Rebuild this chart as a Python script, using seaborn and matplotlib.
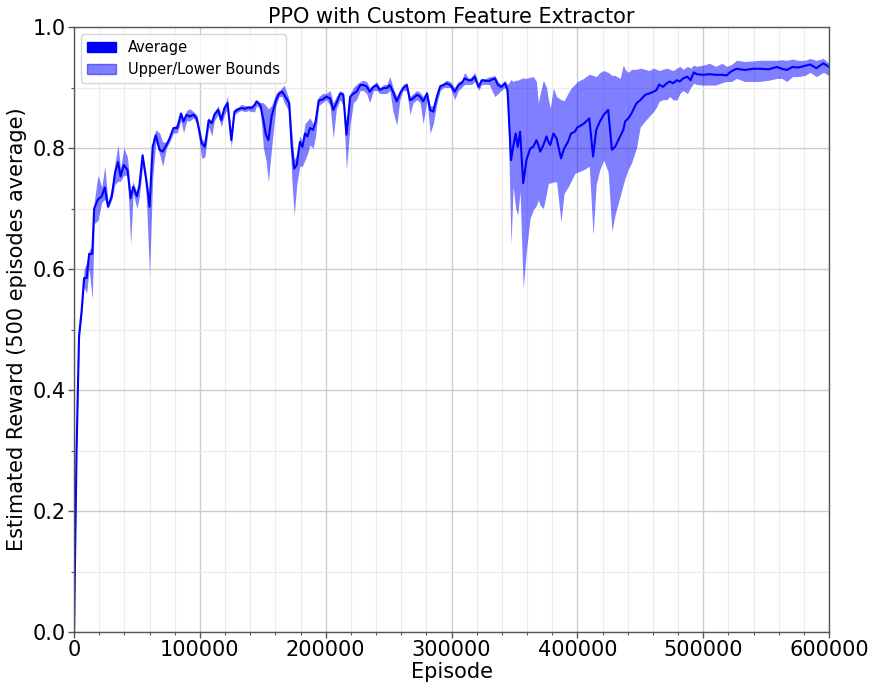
import numpy as np
import pandas as pd
import matplotlib
matplotlib.use("Agg")
import matplotlib.pyplot as plt
import matplotlib.patches as mpatches
from matplotlib.ticker import MultipleLocator
import seaborn as sns

episodes = [0, 2000, 4000, 6000, 8000, 10000, 12000, 14500, 16000, 19000, 22000, 24500, 27000, 30000,
            32500, 35000, 37000, 39500, 42500, 45000, 47000, 50000, 52000, 54500, 57000, 60000, 62500,
            65000, 68000, 70500, 73500, 76000, 79000, 82000, 85000, 87000, 89500, 92000, 95000, 97500,
            101500, 104000, 107000, 109500, 111500, 114500, 117000, 119500, 122000, 125000, 127500,
            130500, 133000, 136000, 138500, 141000, 143500, 145000, 148000, 150500, 152500, 154500,
            157000, 160500, 163000, 165500, 167000, 171000, 173000, 175000, 177000, 179500, 181500,
            183500, 185500, 187500, 190000, 192000, 194500, 197500, 200500, 203500, 206000, 208500,
            211500, 214000, 216500, 219500, 222000, 224500, 227500, 230000, 232500, 235000, 238000,
            240500, 243000, 246000, 248500, 251000, 253500, 256500, 259000, 261500, 264500, 267000,
            269500, 272500, 275000, 277500, 280500, 283000, 285500, 288000, 291000, 293500, 296000,
            299000, 302500, 305500, 308000, 310500, 313500, 316000, 318500, 321500, 324000, 327000,
            330000, 332000, 334500, 337000, 339500, 342500, 344500, 347300, 349000, 351000, 352600,
            354500, 357000, 359500, 362500, 365000, 367500, 369000, 370500, 373000, 375500, 377000,
            378500, 381000, 383500, 387000, 389500, 392500, 395000, 398000, 400000, 405000, 409500,
            412500, 415000, 418000, 421000, 424500, 427500, 430000, 434000, 436500, 438000, 440500,
            443000, 447000, 450000, 454000, 457000, 460500, 463000, 465000, 468000, 471000, 473500,
            476000, 479000, 481500, 484000, 487500, 490000, 492500, 495000, 500000, 505000, 510000,
            515000, 518500, 522500, 526500, 533000, 540000, 545000, 552000, 558500, 562500, 566500,
            571000, 575500, 581000, 585000, 590000, 595500, 600000]

average = [0.0, 0.30, 0.49, 0.53, 0.585, 0.585, 0.625, 0.625, 0.70, 0.715, 0.72, 0.735, 0.703, 0.72,
           0.758, 0.777, 0.753, 0.772, 0.764, 0.717, 0.736, 0.72, 0.739, 0.788, 0.753, 0.703, 0.802,
           0.821, 0.797, 0.794, 0.805, 0.816, 0.833, 0.833, 0.857, 0.844, 0.855, 0.852, 0.855, 0.849,
           0.808, 0.802, 0.846, 0.841, 0.855, 0.863, 0.846, 0.866, 0.874, 0.813, 0.860,
           0.864, 0.866, 0.865, 0.867, 0.866, 0.871, 0.877, 0.871, 0.846, 0.822, 0.813,
           0.852, 0.879, 0.890, 0.893, 0.888, 0.874, 0.802, 0.766, 0.772, 0.810, 0.802,
           0.824, 0.819, 0.833, 0.830, 0.844, 0.879, 0.880, 0.885, 0.882, 0.863, 0.874,
           0.890, 0.888, 0.822, 0.885, 0.890, 0.893, 0.904, 0.904, 0.902, 0.893, 0.901,
           0.904, 0.896, 0.899, 0.899, 0.904, 0.893, 0.877, 0.890, 0.899, 0.904, 0.879,
           0.882, 0.888, 0.885, 0.877, 0.890, 0.863, 0.860, 0.882, 0.902, 0.904, 0.907,
           0.904, 0.893, 0.904, 0.907, 0.915, 0.912, 0.912, 0.918, 0.901, 0.912, 0.911,
           0.911, 0.913, 0.915, 0.904, 0.901, 0.907, 0.896, 0.780, 0.802, 0.824, 0.802,
           0.827, 0.742, 0.780, 0.799, 0.802, 0.813, 0.805, 0.794, 0.805, 0.819, 0.810,
           0.805, 0.824, 0.816, 0.783, 0.799, 0.810, 0.824, 0.827, 0.834, 0.840, 0.849,
           0.786, 0.830, 0.844, 0.855, 0.863, 0.797, 0.802, 0.819, 0.830, 0.844, 0.849,
           0.857, 0.874, 0.879, 0.888, 0.890, 0.893, 0.896, 0.905, 0.901, 0.907, 0.910,
           0.907, 0.912, 0.910, 0.915, 0.918, 0.912, 0.925, 0.922, 0.921, 0.922, 0.921,
           0.921, 0.920, 0.927, 0.931, 0.929, 0.931, 0.931, 0.930, 0.934, 0.931, 0.929,
           0.934, 0.933, 0.936, 0.938, 0.932, 0.940, 0.934]

lower = [0.0, 0.29, 0.48, 0.52, 0.57, 0.56, 0.60, 0.55, 0.675, 0.68, 0.71, 0.715, 0.70, 0.715,
         0.74, 0.745, 0.745, 0.755, 0.755, 0.64, 0.725, 0.70, 0.72, 0.77, 0.74, 0.59, 0.75,
         0.81, 0.79, 0.77, 0.80, 0.81, 0.825, 0.825, 0.845, 0.825, 0.845, 0.845, 0.85, 0.84,
         0.783, 0.785, 0.835, 0.82, 0.845, 0.855, 0.835, 0.855, 0.865, 0.80, 0.855,
         0.86, 0.862, 0.86, 0.862, 0.86, 0.86, 0.87, 0.865, 0.80, 0.78, 0.744,
         0.80, 0.87, 0.885, 0.885, 0.875, 0.86, 0.75, 0.689, 0.74, 0.77, 0.77,
         0.78, 0.79, 0.805, 0.80, 0.82, 0.87, 0.875, 0.88, 0.87, 0.816, 0.865,
         0.88, 0.87, 0.764, 0.84, 0.875, 0.88, 0.895, 0.895, 0.89, 0.875, 0.895,
         0.895, 0.89, 0.89, 0.89, 0.895, 0.86, 0.838, 0.88, 0.895, 0.895, 0.855,
         0.875, 0.88, 0.875, 0.84, 0.88, 0.824, 0.84, 0.87, 0.895, 0.90, 0.90,
         0.90, 0.88, 0.895, 0.90, 0.905, 0.905, 0.905, 0.91, 0.895, 0.905, 0.905,
         0.905, 0.895, 0.885, 0.89, 0.895, 0.90, 0.885, 0.640, 0.736, 0.70, 0.689,
         0.728, 0.568, 0.63, 0.684, 0.698, 0.705, 0.714, 0.705, 0.70, 0.725, 0.742,
         0.742, 0.744, 0.744, 0.678, 0.725, 0.735, 0.745, 0.758, 0.76, 0.764, 0.77,
         0.656, 0.74, 0.765, 0.78, 0.76, 0.662, 0.69, 0.72, 0.74, 0.75, 0.765,
         0.775, 0.80, 0.835, 0.845, 0.852, 0.86, 0.868, 0.877, 0.88, 0.88, 0.885,
         0.88, 0.879, 0.89, 0.895, 0.89, 0.90, 0.907, 0.905, 0.904, 0.904, 0.904,
         0.908, 0.91, 0.91, 0.915, 0.91, 0.91, 0.91, 0.912, 0.915, 0.915, 0.91,
         0.918, 0.918, 0.92, 0.925, 0.918, 0.925, 0.92]

upper = [0.0, 0.31, 0.50, 0.545, 0.60, 0.61, 0.63, 0.64, 0.71, 0.755, 0.735, 0.77, 0.71, 0.735,
         0.775, 0.805, 0.765, 0.80, 0.785, 0.725, 0.745, 0.725, 0.745, 0.79, 0.76, 0.72, 0.815,
         0.83, 0.825, 0.81, 0.81, 0.82, 0.835, 0.84, 0.86, 0.85, 0.862, 0.865, 0.86, 0.855,
         0.815, 0.81, 0.85, 0.845, 0.86, 0.87, 0.855, 0.87, 0.885, 0.82, 0.865,
         0.868, 0.872, 0.87, 0.87, 0.87, 0.875, 0.88, 0.875, 0.875, 0.87, 0.865,
         0.87, 0.89, 0.895, 0.90, 0.904, 0.88, 0.83, 0.78, 0.79, 0.82, 0.81,
         0.84, 0.845, 0.85, 0.84, 0.85, 0.885, 0.89, 0.89, 0.895, 0.875, 0.885,
         0.895, 0.892, 0.84, 0.89, 0.90, 0.905, 0.91, 0.912, 0.91, 0.90, 0.905,
         0.91, 0.90, 0.905, 0.905, 0.918, 0.90, 0.885, 0.895, 0.905, 0.908, 0.885,
         0.89, 0.895, 0.892, 0.885, 0.895, 0.87, 0.87, 0.89, 0.905, 0.908, 0.912,
         0.91, 0.90, 0.91, 0.912, 0.925, 0.915, 0.918, 0.925, 0.905, 0.915, 0.915,
         0.918, 0.918, 0.92, 0.91, 0.905, 0.912, 0.905, 0.913, 0.91, 0.912, 0.912,
         0.914, 0.916, 0.915, 0.917, 0.918, 0.91, 0.874, 0.89, 0.912, 0.90, 0.88,
         0.866, 0.899, 0.885, 0.88, 0.878, 0.89, 0.899, 0.905, 0.91, 0.915, 0.922,
         0.92, 0.918, 0.925, 0.928, 0.925, 0.92, 0.92, 0.915, 0.937, 0.93, 0.925,
         0.93, 0.93, 0.932, 0.93, 0.928, 0.932, 0.93, 0.928, 0.93, 0.932, 0.93,
         0.928, 0.932, 0.935, 0.93, 0.935, 0.932, 0.937, 0.935, 0.937, 0.94, 0.935,
         0.94, 0.935, 0.938, 0.945, 0.943, 0.944, 0.945, 0.945, 0.945, 0.946, 0.945,
         0.947, 0.945, 0.945, 0.948, 0.945, 0.948, 0.94]

title = "PPO with Custom Feature Extractor"
xlabel = "Episode"
ylabel = "Estimated Reward (500 episodes average)"
legend_labels = ["Average", "Upper/Lower Bounds"]

df = pd.DataFrame({"Episode": episodes, "Average": average, "Lower": lower, "Upper": upper})

sns.set_style("whitegrid")
plt.rcParams['font.family'] = ['DejaVu Sans']
plt.rcParams['text.color'] = 'black'
plt.rcParams['axes.labelcolor'] = 'black'
plt.rcParams['xtick.color'] = 'black'
plt.rcParams['ytick.color'] = 'black'

fig = plt.figure(figsize=(8.73, 6.89), dpi=100)
ax = fig.add_axes([0.0848, 0.0827, 0.8648, 0.8781])

ax.fill_between(df["Episode"], df["Lower"], df["Upper"], color="blue", alpha=0.5, linewidth=0)
sns.lineplot(data=df, x="Episode", y="Average", color="blue", linewidth=1.5, ax=ax)

ax.set_xlim(0, 600000)
ax.set_ylim(0, 1.0)
ax.xaxis.set_major_locator(MultipleLocator(100000))
ax.xaxis.set_minor_locator(MultipleLocator(20000))
ax.yaxis.set_major_locator(MultipleLocator(0.2))
ax.yaxis.set_minor_locator(MultipleLocator(0.1))
ax.grid(True, which="major", color="#cccccc", linewidth=1.0)
ax.grid(True, which="minor", color="#ebebeb", linewidth=0.8)
ax.set_axisbelow(True)

for s in ax.spines.values():
    s.set_color("#555555")
    s.set_linewidth(1.0)
ax.tick_params(axis="both", which="major", labelsize=15, length=4, width=1, color="#555555",
               labelcolor="black", bottom=True, left=True, direction="out", pad=2)
ax.tick_params(axis="both", which="minor", length=2.5, width=0.8, color="#555555",
               bottom=True, left=True, direction="out")

ax.set_title(title, fontsize=15, pad=3, color="black")
ax.set_xlabel(xlabel, fontsize=15, labelpad=1, color="black")
ax.set_ylabel(ylabel, fontsize=15, labelpad=4, color="black")

handles = [mpatches.Patch(color="blue", label=legend_labels[0]),
           mpatches.Patch(color="blue", alpha=0.5, label=legend_labels[1])]
ax.legend(handles=handles, loc="upper left", fontsize=10.5, frameon=True, framealpha=0.8,
          edgecolor="#cccccc", borderaxespad=0.5)

fig.savefig("out.png", dpi=100)
